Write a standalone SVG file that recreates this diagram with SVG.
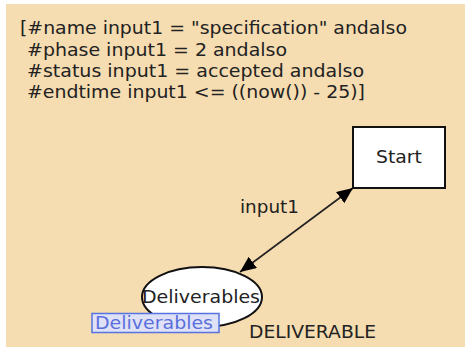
<svg xmlns="http://www.w3.org/2000/svg" width="465" height="347" viewBox="0 0 465 347">
  <style>
    .t { font-family: "DejaVu Sans", Verdana, sans-serif; font-size: 18px; fill: #222222; }
    .node { fill: #ffffff; stroke: #111111; stroke-width: 2; }
    .arc { stroke: #222222; stroke-width: 1.6; fill: none; }
    .tag { fill: #dfe2f6; stroke: #5673e0; stroke-width: 1.5; }
    .tagtext { font-family: "DejaVu Sans", Verdana, sans-serif; font-size: 18px; fill: #5a6fdc; }
  </style>
  <defs>
    <marker id="head" viewBox="0 0 16 14" refX="16" refY="7" markerWidth="16" markerHeight="14" markerUnits="userSpaceOnUse" orient="auto-start-reverse">
      <path d="M0,0 L16,7 L0,14 Z" fill="#000000"/>
    </marker>
  </defs>

  <rect x="0" y="0" width="465" height="347" fill="#ffffff"/>
  <rect x="6" y="4" width="459" height="343" fill="#f5dcb1"/>

  <!-- guard expression -->
  <g id="guard">
    <text class="t" x="20" y="34" textLength="387" lengthAdjust="spacingAndGlyphs">[#name input1 = "specification" andalso</text>
    <text class="t" x="27" y="55.5" textLength="260" lengthAdjust="spacingAndGlyphs">#phase input1 = 2 andalso</text>
    <text class="t" x="27" y="77" textLength="337" lengthAdjust="spacingAndGlyphs">#status input1 = accepted andalso</text>
    <text class="t" x="27" y="98" textLength="338" lengthAdjust="spacingAndGlyphs">#endtime input1 &lt;= ((now()) - 25)]</text>
  </g>

  <!-- connectors -->
  <g id="connectors">
    <line class="arc" x1="240" y1="272" x2="353" y2="188" marker-start="url(#head)" marker-end="url(#head)"/>
    <text class="t" x="240" y="213" textLength="59" lengthAdjust="spacingAndGlyphs">input1</text>
  </g>

  <!-- transition -->
  <g id="start">
    <rect class="node" x="353" y="127" width="92" height="61"/>
    <text class="t" x="376" y="163" textLength="46" lengthAdjust="spacingAndGlyphs">Start</text>
  </g>

  <!-- place -->
  <g id="deliverables">
    <ellipse class="node" cx="202" cy="297" rx="60" ry="30"/>
    <text class="t" x="142" y="303" textLength="118" lengthAdjust="spacingAndGlyphs">Deliverables</text>
    <rect class="tag" x="92" y="313.5" width="127" height="19"/>
    <text class="tagtext" x="95" y="329" textLength="118" lengthAdjust="spacingAndGlyphs">Deliverables</text>
    <text class="t" x="249" y="338" textLength="127" lengthAdjust="spacingAndGlyphs">DELIVERABLE</text>
  </g>
</svg>
